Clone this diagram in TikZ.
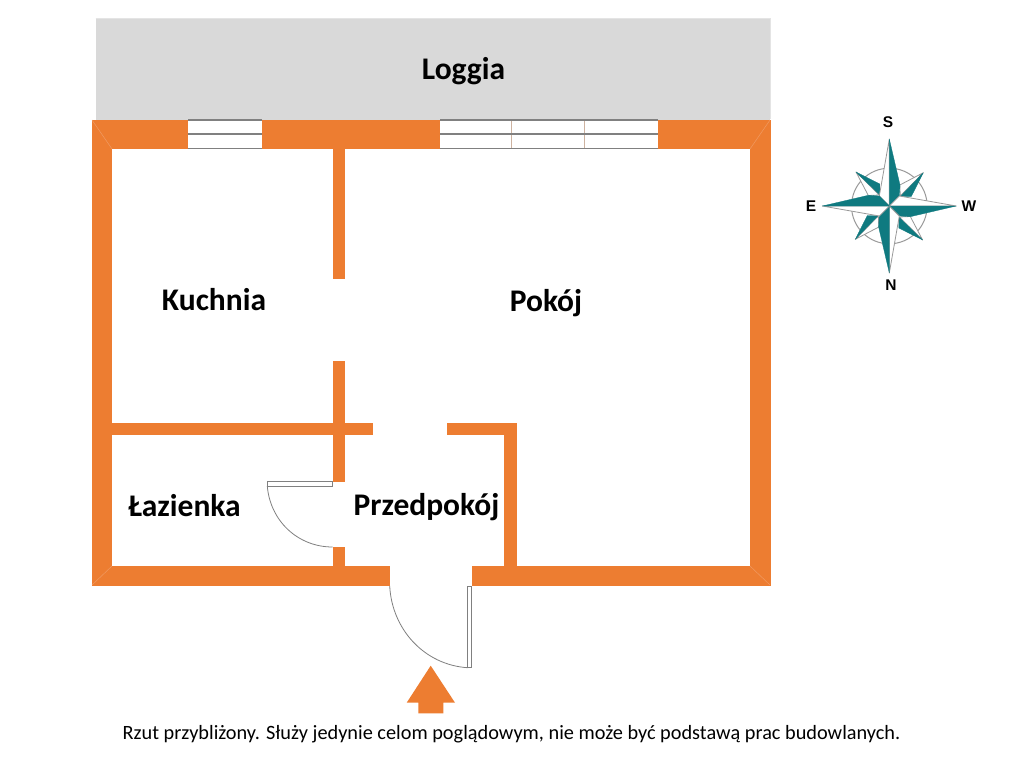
\documentclass[tikz,border=0pt]{standalone}
\usepackage{fontspec}
\setmainfont{Carlito}
\newfontfamily\compassfont{Liberation Sans}
\definecolor{wallc}{HTML}{ED7D31}
\definecolor{miterc}{HTML}{F09A62}
\definecolor{logc}{HTML}{D9D9D9}
\definecolor{tealc}{HTML}{0F7A80}
\definecolor{linec}{HTML}{808080}
\tikzset{
  wall/.style={fill=wallc,draw=none},
  room/.style={font=\bfseries\fontsize{31.5}{34}\selectfont,text=black,inner sep=0pt,anchor=base},
  compasslabel/.style={font=\compassfont\bfseries\fontsize{15.5}{17}\selectfont,text=black,inner sep=0pt},
  winline/.style={draw=linec,line width=1.2pt},
  windiv/.style={draw=linec!60!wallc!60!white,line width=0.8pt},
  doorline/.style={draw=linec,line width=0.8pt},
  tealface/.style={fill=tealc,draw=tealc,line width=0.3pt,line join=round},
  whiteface/.style={fill=white,draw=linec!80!white,line width=0.8pt,line join=round},
}
\begin{document}
\begin{tikzpicture}[x=1pt,y=-1pt]
\useasboundingbox (0,0) rectangle (1024,768);
\fill[white] (0,0) rectangle (1024,768);
% loggia
\fill[logc] (95.5,18) rectangle (770,119.5);
\draw[draw=logc!70!white,line width=0.6pt] (95.5,18) -- (770,18) -- (770,119);
% outer walls
\fill[wall] (91.5,119.5) rectangle (771,149);
\fill[wall] (91.5,119.5) rectangle (112,586);
\fill[wall] (750,119.5) rectangle (771,586);
\fill[wall] (91.5,565.5) rectangle (389.7,586);
\fill[wall] (471.7,565.5) rectangle (771,586);
\draw[miterc,line width=0.5pt] (92,120) -- (112,149);
\draw[miterc,line width=0.5pt] (770,120) -- (750,149);
\draw[miterc,line width=0.5pt] (92,585) -- (112,566);
\draw[miterc,line width=0.5pt] (770,585) -- (750,566);
% inner walls
\fill[wall] (332.7,149) rectangle (345,279);
\fill[wall] (332.7,361) rectangle (345,481.7);
\fill[wall] (332.7,547) rectangle (345,566);
\fill[wall] (112,422.7) rectangle (373.3,435);
\fill[wall] (446.7,422.7) rectangle (516.7,435);
\fill[wall] (504.3,422.7) rectangle (516.7,566);
% windows
\fill[white] (188.3,119.5) rectangle (262,148.5);
\draw[winline] (188.3,120) -- (262,120) (188.3,134) -- (262,134) (188.3,148.5) -- (262,148.5);
\fill[white] (440,119.5) rectangle (658,148.5);
\draw[windiv] (511.3,120) -- (511.3,148.5) (584.7,120) -- (584.7,148.5);
\draw[winline] (440,120) -- (658,120) (440,134) -- (658,134) (440,148.5) -- (658,148.5);
% bathroom door
\draw[doorline] (267.3,481.7) rectangle (332.7,486);
\draw[doorline] (267.3,486) .. controls (270,520) and (297,547) .. (332.7,547);
% entrance door
\draw[doorline] (467.7,586) rectangle (471.7,667.7);
\draw[doorline] (389.7,586) .. controls (392,630) and (425,665) .. (467.7,667.7);
% arrow
\fill[wall] (430.7,665.7) -- (455,702.7) -- (443.3,702.7) -- (443.3,713.3) -- (418.3,713.3) -- (418.3,702.7) -- (406.7,702.7) -- cycle;
% compass
\draw[linec!80!white,line width=1pt] (889.3,206) circle (37.8);
\foreach \a in {0,-90,-180,-270}{
\begin{scope}[shift={(889.3,206)},rotate=\a]
\filldraw[whiteface] (34,-33.3) -- (10.5,-21) -- (11,-10) -- cycle;
\filldraw[tealface] (34,-33.3) -- (22,-9.5) -- (11,-9.5) -- cycle;
\end{scope}}
\foreach \a in {0,-90,-180,-270}{
\begin{scope}[shift={(889.3,206)},rotate=\a]
\filldraw[whiteface] (0,0) -- (0,-67) -- (-10,-10) -- cycle;
\filldraw[tealface] (0,0) -- (0,-67) -- (10.7,-21) -- (10,-10) -- cycle;
\end{scope}}
% labels
\node[room] (loggia) at (463.5,79) {Loggia};
\node[room] (kuchnia) at (214,310) {Kuchnia};
\node[room] (pokoj) at (546,311) {Pokój};
\node[room] (lazienka) at (184.5,516) {Łazienka};
\node[room] (przedpokoj) at (426.5,515) {Przedpokój};
\node[compasslabel] (s) at (888,122) {S};
\node[compasslabel] (n) at (891,285) {N};
\node[compasslabel] (e) at (811,206) {E};
\node[compasslabel] (w) at (969,206) {W};
\node[anchor=base,inner sep=0pt,font=\fontsize{20.3}{22}\selectfont,text=black] (note) at (511.5,739) {Rzut przybliżony. Służy jedynie celom poglądowym, nie może być podstawą prac budowlanych.};
\end{tikzpicture}
\end{document}
